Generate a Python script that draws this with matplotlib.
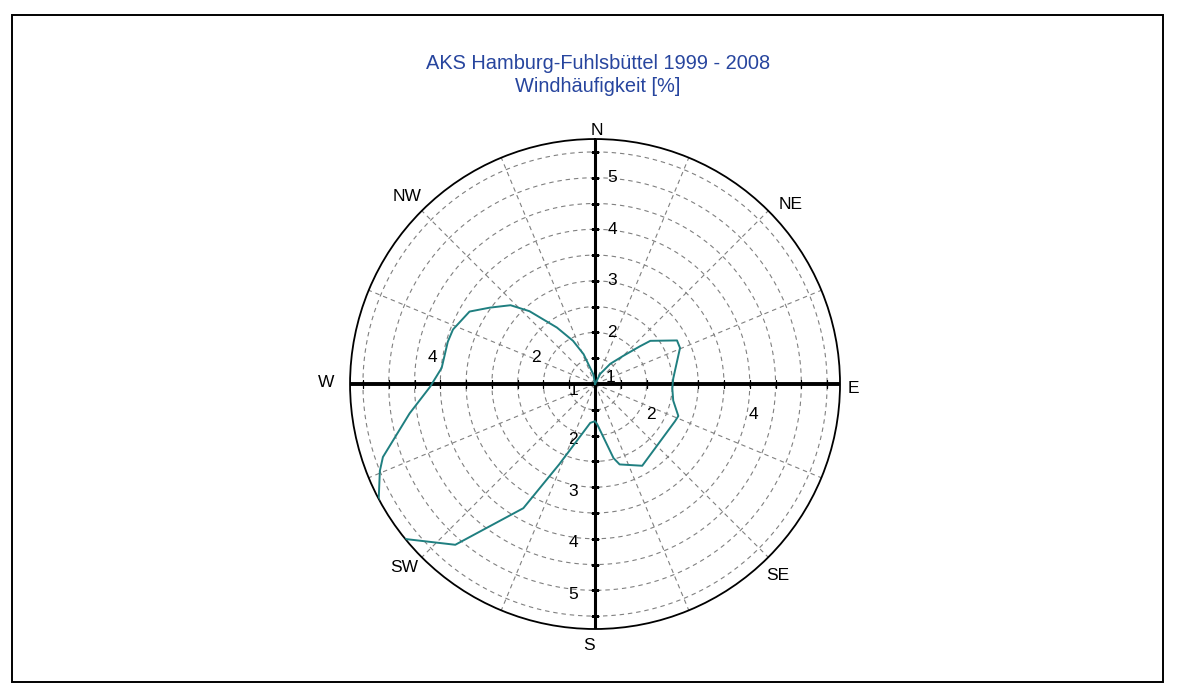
import numpy as np
import matplotlib.pyplot as plt
from matplotlib.patches import Rectangle

plt.rcParams['font.family'] = ['Liberation Sans', 'DejaVu Sans']

# wind frequency per direction (compass degrees, percent)
directions = [0, 27, 37, 45, 50, 52, 62, 67, 86, 93, 102, 111, 115, 150, 163, 166,
              177, 180, 187, 204, 210, 221, 231, 236, 241, 248, 251, 261, 269,
              276, 286, 291, 300, 306, 313, 318, 326, 333, 339, 350]
frequency = [1.0, 1.22, 1.49, 1.77, 2.14, 2.36, 2.80, 2.79, 2.52, 2.50, 2.55, 2.73,
             2.71, 2.83, 2.63, 2.48, 1.78, 1.72, 1.76, 2.70, 3.78, 5.13, 5.77,
             5.95, 5.80, 5.50, 5.35, 4.64, 4.20, 3.99, 3.97, 3.95, 3.81, 3.52,
             3.24, 2.90, 2.32, 1.94, 1.62, 1.19]

compass = ['N', 'NE', 'E', 'SE', 'S', 'SW', 'W', 'NW']
ns_labels = [2, 3, 4, 5]
ew_labels = [2, 4]

r_min, r_max = 1.0, 5.75
rings = np.arange(1.5, 5.51, 0.5)
spokes = np.arange(0, 360, 22.5)

fig = plt.figure(figsize=(11.77, 6.90), dpi=100)
ax = fig.add_axes([0.2974, 0.0884, 0.4163, 0.7101], projection='polar')
ax.set_theta_zero_location('N')
ax.set_theta_direction(-1)
ax.set_rlim(r_min, r_max)
ax.grid(False)
ax.set_xticks([])
ax.set_yticks([])
ax.spines['polar'].set_linewidth(1.3)
ax.spines['polar'].set_color('black')

# dashed rings and spokes
full = np.linspace(0, 2 * np.pi, 361)
for r in rings:
    ax.plot(full, np.full_like(full, r), color='#808080', lw=0.8,
            dashes=(4, 3.5), zorder=1)
for s in spokes:
    t = np.deg2rad(s)
    ax.plot([t, t], [r_min, r_max], color='#808080', lw=0.8,
            dashes=(4, 3.5), zorder=1)

# main cross
for ang, lw in [(0, 2.2), (180, 2.2), (90, 2.8), (270, 2.8)]:
    t = np.deg2rad(ang)
    ax.plot([t, t], [r_min, r_max], color='black', lw=lw, zorder=3,
            solid_capstyle='butt')
    ax.plot(np.full_like(rings, t), rings, ls='none',
            marker='_' if ang in (0, 180) else '|', ms=6, mew=0.9,
            color='black', zorder=3)

# wind rose polygon
th = np.deg2rad(directions + directions[:1])
rv = frequency + frequency[:1]
ax.plot(th, rv, color='#1f7f80', lw=1.4, zorder=4)

# radial scale labels
lab_kw = dict(textcoords='offset pixels', fontsize=12.5, va='center',
              ha='center', annotation_clip=False)
for v in ns_labels:
    ax.annotate(str(v), xy=(0, v), xytext=(17, 0), **lab_kw)
    ax.annotate(str(v), xy=(np.pi, v), xytext=(-22, -4), **lab_kw)
for v in ew_labels:
    ax.annotate(str(v), xy=(np.pi / 2, v), xytext=(4, -30), **lab_kw)
    ax.annotate(str(v), xy=(3 * np.pi / 2, v), xytext=(-8, 27), **lab_kw)
ax.annotate('1', xy=(0, r_min), xytext=(15, 7), **lab_kw)
ax.annotate('1', xy=(0, r_min), xytext=(-22, -6), **lab_kw)

# compass labels
offsets = {'N': (2, 9, 'center', 'center'), 'NE': (10, 6, 'left', 'center'),
           'E': (8, -4, 'left', 'center'), 'SE': (-2, -18, 'left', 'center'),
           'S': (-6, -16, 'center', 'center'), 'SW': (-4, -10, 'right', 'center'),
           'W': (-16, 2, 'right', 'center'), 'NW': (0, 14, 'right', 'center')}
for i, name in enumerate(compass):
    dx, dy, ha, va = offsets[name]
    ax.annotate(name, xy=(np.deg2rad(45 * i), r_max), xytext=(dx, dy),
                textcoords='offset pixels', fontsize=12.5, ha=ha, va=va,
                annotation_clip=False)

fig.text(0.508, 0.891, 'AKS Hamburg-Fuhlsbüttel 1999 - 2008\nWindhäufigkeit [%]',
         ha='center', va='center', fontsize=14.4, color='#27459e',
         linespacing=1.3)

# page frame
fig.add_artist(Rectangle((12 / 1177, 1 - 682 / 690), 1151 / 1177, 667 / 690,
                         transform=fig.transFigure, fill=False,
                         edgecolor='black', lw=1.4))

fig.savefig('out.png', dpi=100)
